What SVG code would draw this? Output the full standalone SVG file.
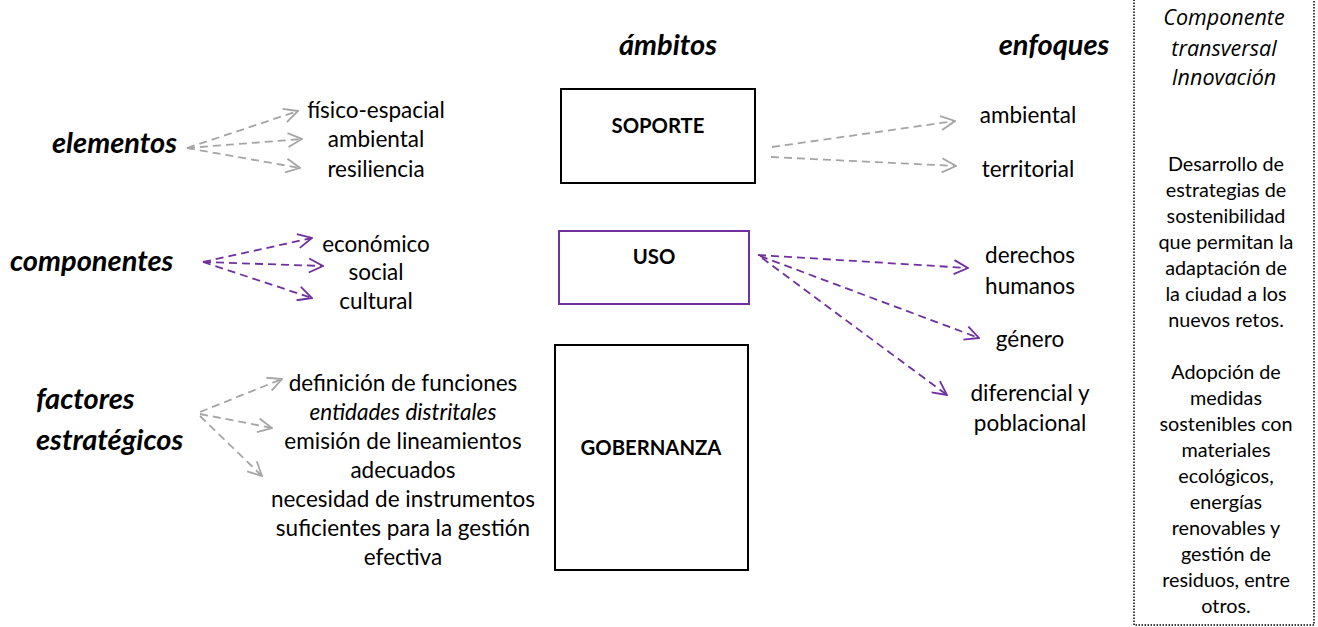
<svg xmlns="http://www.w3.org/2000/svg" width="1318" height="627" viewBox="0 0 1318 627">
<style>
text{font-family:Lato,"Open Sans","Liberation Sans",sans-serif;fill:#000;text-anchor:middle}
.item{font-size:22.5px}
.head{font-size:29px;font-weight:bold;font-style:italic}
.lbl{font-size:29px;font-weight:bold;font-style:italic;text-anchor:start}
.box{fill:#fff;stroke:#000;stroke-width:2}
.boxp{fill:#fff;stroke:#7030A0;stroke-width:2}
.bt{font-size:20.3px;font-weight:bold}
.side{font-size:19.8px}
.sidei{font-family:"Open Sans",Lato,sans-serif;font-size:21.5px;font-style:italic}
.g{fill:none;stroke:#A5A5A5;stroke-width:1.8;stroke-dasharray:8 5}
.p{fill:none;stroke:#7030A0;stroke-width:1.8;stroke-dasharray:8 5}
</style>
<defs>
<marker id="ag" viewBox="0 0 16 16" refX="15" refY="8" markerWidth="16" markerHeight="16" markerUnits="userSpaceOnUse" orient="auto"><path d="M1 1 L15 8 L1 15" fill="none" stroke="#A5A5A5" stroke-width="1.8"/></marker>
<marker id="ap" viewBox="0 0 16 16" refX="15" refY="8" markerWidth="16" markerHeight="16" markerUnits="userSpaceOnUse" orient="auto"><path d="M1 1 L15 8 L1 15" fill="none" stroke="#7030A0" stroke-width="1.8"/></marker>
</defs>
<rect width="1318" height="627" fill="#fff"/>

<g id="connectors">
<path class="g" d="M187 148 L298 111" marker-end="url(#ag)"/>
<path class="g" d="M187 148 L302 139" marker-end="url(#ag)"/>
<path class="g" d="M187 148 L300 168" marker-end="url(#ag)"/>
<path class="p" d="M203 262 L312 238" marker-end="url(#ap)"/>
<path class="p" d="M203 262 L323 266" marker-end="url(#ap)"/>
<path class="p" d="M203 262 L312 298" marker-end="url(#ap)"/>
<path class="g" d="M200 412 L282 379" marker-end="url(#ag)"/>
<path class="g" d="M200 414 L272 428" marker-end="url(#ag)"/>
<path class="g" d="M200 416 L262 476" marker-end="url(#ag)"/>
<path class="g" d="M772 147 L955 121" marker-end="url(#ag)"/>
<path class="g" d="M771 157 L956 166" marker-end="url(#ag)"/>
<path class="p" d="M758 255 L968 268" marker-end="url(#ap)"/>
<path class="p" d="M760 256 L979 338" marker-end="url(#ap)"/>
<path class="p" d="M762 258 L947 395" marker-end="url(#ap)"/>
</g>

<g id="headings">
<text class="head" x="668" y="55">ámbitos</text>
<text class="head" x="1054" y="55" font-size="27px">enfoques</text>
</g>

<g id="elementos">
<text class="lbl" x="52" y="153">elementos</text>
<text class="item" x="376" y="118">físico-espacial</text>
<text class="item" x="376" y="147">ambiental</text>
<text class="item" x="376" y="177">resiliencia</text>
</g>

<g id="componentes">
<text class="lbl" x="10" y="271">componentes</text>
<text class="item" x="376" y="252">económico</text>
<text class="item" x="376" y="280">social</text>
<text class="item" x="376" y="309">cultural</text>
</g>

<g id="factores">
<text class="lbl" x="36" y="409">factores</text>
<text class="lbl" x="36" y="450">estratégicos</text>
<text class="item" x="403" y="391">definición de funciones</text>
<text class="item" x="403" y="420" font-style="italic">entidades distritales</text>
<text class="item" x="403" y="449">emisión de lineamientos</text>
<text class="item" x="403" y="478">adecuados</text>
<text class="item" x="403" y="507">necesidad de instrumentos</text>
<text class="item" x="403" y="536">suficientes para la gestión</text>
<text class="item" x="403" y="565">efectiva</text>
</g>

<g id="soporte">
<rect class="box" x="561" y="89" width="194" height="94"/>
<text class="bt" x="658" y="133">SOPORTE</text>
</g>
<g id="uso">
<rect class="boxp" x="559" y="231" width="190" height="73"/>
<text class="bt" x="654" y="264">USO</text>
</g>
<g id="gobernanza">
<rect class="box" x="555" y="345" width="193" height="225"/>
<text class="bt" x="651" y="455">GOBERNANZA</text>
</g>

<g id="enfoques">
<text class="item" x="1028" y="123">ambiental</text>
<text class="item" x="1028" y="177">territorial</text>
<text class="item" x="1030" y="263">derechos</text>
<text class="item" x="1030" y="294">humanos</text>
<text class="item" x="1030" y="347">género</text>
<text class="item" x="1030" y="401">diferencial y</text>
<text class="item" x="1030" y="431">poblacional</text>
</g>

<g id="transversal">
<rect x="1134" y="-5" width="180" height="630" fill="none" stroke="#000" stroke-width="1.5" stroke-dasharray="1.5 1.5"/>
<text class="sidei" x="1224" y="25">Componente</text>
<text class="sidei" x="1224" y="56">transversal</text>
<text class="sidei" x="1224" y="85">Innovación</text>
<text class="side" x="1226" y="171">Desarrollo de</text>
<text class="side" x="1226" y="197">estrategias de</text>
<text class="side" x="1226" y="223">sostenibilidad</text>
<text class="side" x="1226" y="249">que permitan la</text>
<text class="side" x="1226" y="275">adaptación de</text>
<text class="side" x="1226" y="301">la ciudad a los</text>
<text class="side" x="1226" y="327">nuevos retos.</text>
<text class="side" x="1226" y="379">Adopción de</text>
<text class="side" x="1226" y="405">medidas</text>
<text class="side" x="1226" y="431">sostenibles con</text>
<text class="side" x="1226" y="457">materiales</text>
<text class="side" x="1226" y="483">ecológicos,</text>
<text class="side" x="1226" y="509">energías</text>
<text class="side" x="1226" y="535">renovables y</text>
<text class="side" x="1226" y="561">gestión de</text>
<text class="side" x="1226" y="587">residuos, entre</text>
<text class="side" x="1226" y="613">otros.</text>
</g>
</svg>
